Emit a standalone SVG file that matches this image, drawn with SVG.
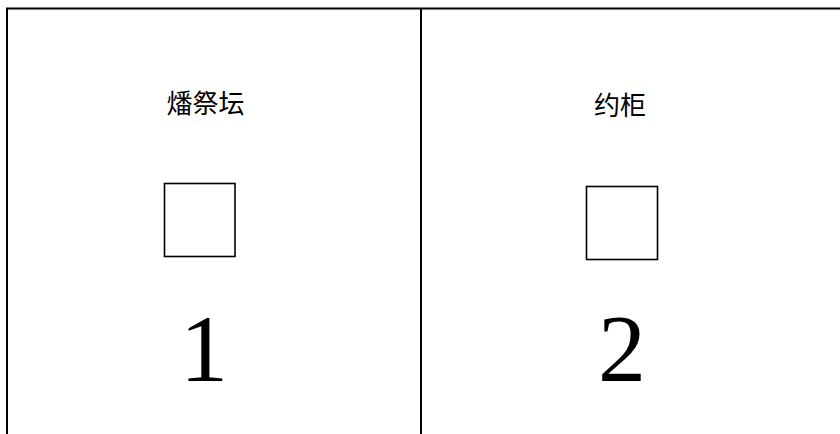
<svg xmlns="http://www.w3.org/2000/svg" width="840" height="434" viewBox="0 0 840 434">
<style>
.ln{stroke:#000;stroke-width:2;fill:none}
.box{stroke:#000;stroke-width:1.6;fill:#fff}
.cjk{font-family:"Noto Sans CJK SC","Noto Sans",sans-serif;font-size:26px;fill:#000;text-anchor:middle}
.num{font-family:"Liberation Serif",serif;font-size:96px;fill:#000;text-anchor:middle}
</style>
<rect width="840" height="434" fill="#fff"/>
<g id="frame">
<path class="ln" d="M7,434 V8.5 H840"/>
<path class="ln" d="M421,8.5 V434"/>
</g>
<g id="node1">
<text class="cjk" x="205.5" y="113">燔祭坛</text>
<rect class="box" x="164.5" y="183.5" width="70.5" height="73"/>
<text class="num" x="204" y="381">1</text>
</g>
<g id="node2">
<text class="cjk" x="620" y="115">约柜</text>
<rect class="box" x="586.5" y="186.5" width="71" height="73"/>
<text class="num" x="622" y="381">2</text>
</g>
<g id="connectors"></g>
</svg>
